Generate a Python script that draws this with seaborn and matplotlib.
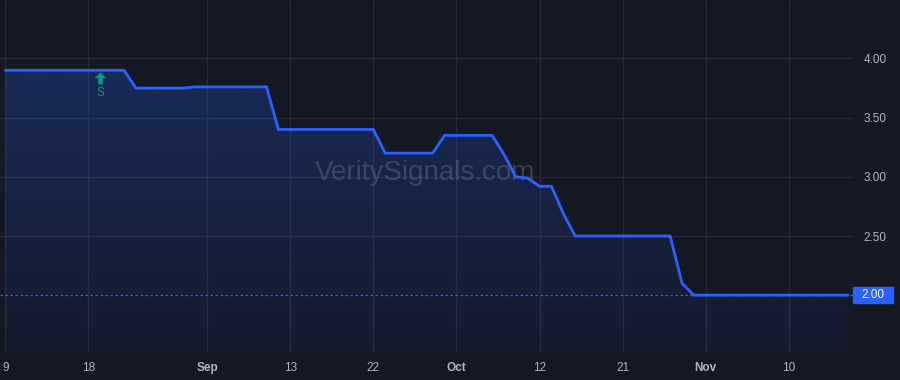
import numpy as np
import pandas as pd
import matplotlib
matplotlib.use("Agg")
import matplotlib.pyplot as plt
import seaborn as sns
from matplotlib.patches import Rectangle
from matplotlib.path import Path
from matplotlib.transforms import blended_transform_factory

# ---- data ----
dates = ["2021-08-09", "2021-08-23", "2021-08-24", "2021-08-30", "2021-08-31",
         "2021-09-09", "2021-09-10", "2021-09-22", "2021-09-23", "2021-09-29",
         "2021-09-30", "2021-10-06", "2021-10-07", "2021-10-08", "2021-10-11",
         "2021-10-12", "2021-10-13", "2021-10-14", "2021-10-15", "2021-10-27",
         "2021-10-28", "2021-10-29", "2021-11-17"]
values = [3.90, 3.90, 3.75, 3.75, 3.76,
          3.76, 3.40, 3.40, 3.20, 3.20,
          3.35, 3.35, 3.19, 3.00, 2.99,
          2.92, 2.92, 2.69, 2.50, 2.50,
          2.10, 2.00, 2.00]
holidays = ["2021-09-06"]
tick_dates = ["2021-08-09", "2021-08-18", "2021-09-01", "2021-09-13", "2021-09-22",
              "2021-10-01", "2021-10-12", "2021-10-21", "2021-11-01", "2021-11-10"]
tick_labels = ["9", "18", "Sep", "13", "22", "Oct", "12", "21", "Nov", "10"]
month_labels = {"Sep", "Oct", "Nov"}
y_ticks = [2.50, 3.00, 3.50, 4.00]
last_price = 2.00
signal_date = "2021-08-19"
signal_label = "S"
watermark = "VeritySignals.com"

start = dates[0]
def tidx(d):
    return int(np.busday_count(start, d, holidays=holidays))

df = pd.DataFrame({"t": [tidx(d) for d in dates], "v": values})

# ---- style ----
BG = "#141823"
GRID = "#262a36"
LINE = "#2962FF"
TXT = "#b2b5be"
TEAL = "#089981"

sns.set_theme(style="dark")
plt.rcParams["font.family"] = ["Liberation Sans", "DejaVu Sans"]

fig = plt.figure(figsize=(9, 3.8), dpi=100, facecolor=BG)
ax = fig.add_axes([0, 28 / 380, 853 / 900, 352 / 380])
ax.set_facecolor(BG)

xmin, xmax = -0.45, 71.4
ymin, ymax = 1.52, 4.494

# grid
for t in tick_dates:
    ax.axvline(tidx(t), color=GRID, lw=1, zorder=0)
for y in y_ticks:
    ax.axhline(y, color=GRID, lw=1, zorder=0)

# gradient fill under the line
poly = ax.fill_between(df["t"], df["v"], ymin, color="none", lw=0)
n = 256
alpha = np.linspace(0.04, 0.30, n).reshape(-1, 1)
rgb = np.array(matplotlib.colors.to_rgb(LINE))
img = np.zeros((n, 1, 4))
img[..., :3] = rgb
img[..., 3] = alpha
im = ax.imshow(img, extent=[xmin, xmax, ymin, ymax], origin="lower",
               aspect="auto", zorder=1, interpolation="bilinear")
path = poly.get_paths()[0]
im.set_clip_path(path, transform=ax.transData)

# last price dotted line
ax.axhline(last_price, color=LINE, lw=0.9, ls=(0, (2, 2)), zorder=2)

# main line
sns.lineplot(data=df, x="t", y="v", ax=ax, color=LINE, lw=2,
             estimator=None, sort=False, zorder=3)

# watermark
ax.text(0.498, 0.508, watermark, transform=ax.transAxes, ha="center",
        va="center", fontsize=20, color="#7f8596", alpha=0.35, zorder=2)

# signal marker (up arrow)
arrow = Path([(-1.0, 0.05), (0.0, 1.0), (1.0, 0.05), (0.38, 0.05),
              (0.38, -1.0), (-0.38, -1.0), (-0.38, 0.05), (-1.0, 0.05)],
             [Path.MOVETO] + [Path.LINETO] * 6 + [Path.CLOSEPOLY])
sx = tidx(signal_date)
ax.plot([sx], [3.831], marker=arrow, markersize=8.5, color=TEAL,
        markeredgewidth=0, zorder=4)
ax.text(sx, 3.708, signal_label, ha="center", va="center", fontsize=8.5,
        color=TEAL, zorder=4)

ax.set_xlim(xmin, xmax)
ax.set_ylim(ymin, ymax)

# axes ticks
ax.set_xticks([tidx(t) for t in tick_dates])
ax.set_xticklabels(tick_labels)
for lbl in ax.get_xticklabels():
    lbl.set_color(TXT)
    lbl.set_fontsize(8.5)
    if lbl.get_text() in month_labels:
        lbl.set_fontweight("bold")
ax.tick_params(axis="x", length=0, pad=7.5)
ax.yaxis.tick_right()
ax.set_yticks(y_ticks)
ax.set_yticklabels([f"{v:.2f}" for v in y_ticks])
ax.tick_params(axis="y", length=0, pad=7.5, labelsize=8.5, labelcolor=TXT)
ax.set_xlabel("")
ax.set_ylabel("")
ax.grid(False)
for s in ax.spines.values():
    s.set_visible(False)

# price label box
tr = blended_transform_factory(fig.transFigure, ax.transData)
h = 16 / 118
ax.add_patch(Rectangle((853 / 900, last_price - h / 2), 40 / 900, h,
                       transform=tr, color=LINE, clip_on=False, zorder=5))
ax.text(873 / 900, last_price, f"{last_price:.2f}", transform=tr, ha="center",
        va="center", fontsize=8.5, color="white", zorder=6, clip_on=False)

fig.savefig("out.png", dpi=100, facecolor=BG)
